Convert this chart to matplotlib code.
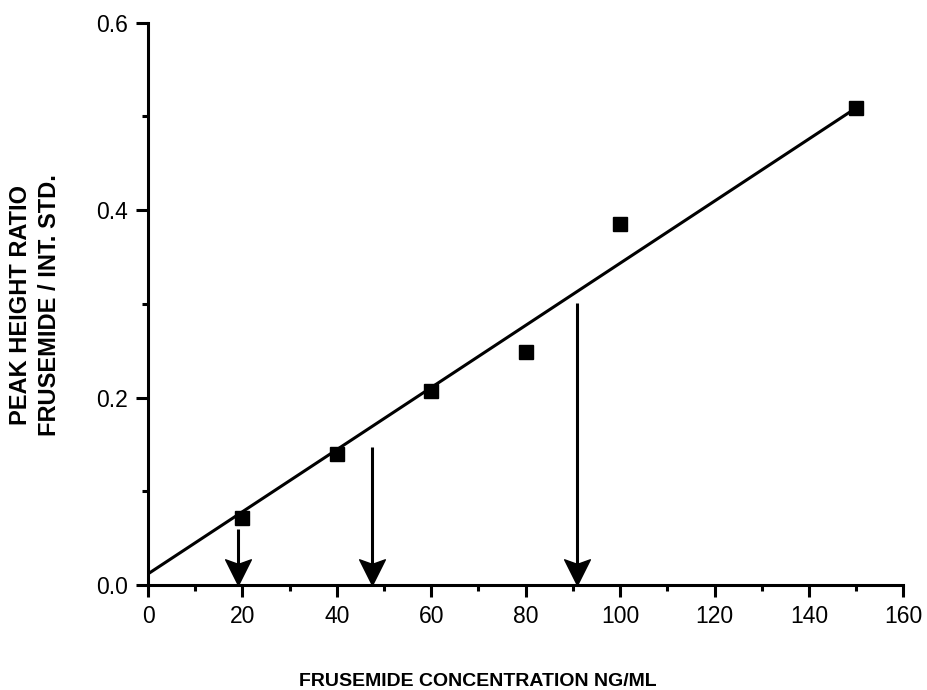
import matplotlib.pyplot as plt
from matplotlib.ticker import MultipleLocator

plt.rcParams['font.family'] = ['Liberation Sans', 'DejaVu Sans']

# calibration standards
conc = [20, 40, 60, 80, 100, 150]
ratio = [0.072, 0.140, 0.207, 0.249, 0.385, 0.509]

# regression line end points
fit_x = [0, 150]
fit_y = [0.012, 0.509]

# unknown samples (x, top of arrow)
arrow_x = [19.1, 47.5, 90.8]
arrow_top = [0.060, 0.147, 0.301]

# notched arrow head, tip at the origin
head = [(0, 0), (-0.5, 1.0), (0, 0.82), (0.5, 1.0), (0, 0)]

fig = plt.figure(figsize=(9.27, 6.9), dpi=100)
ax = fig.add_axes([0.1597, 0.152, 0.8148, 0.8153])

ax.plot(fit_x, fit_y, color='black', lw=2.2, zorder=2)
ax.plot(conc, ratio, 's', color='black', ms=10, zorder=3)

ax.vlines(arrow_x, 0.01, arrow_top, color='black', lw=2.2, zorder=2)
ax.plot(arrow_x, [0] * len(arrow_x), ls='none', marker=head, ms=37,
        color='black', clip_on=False, zorder=4)

ax.set_xlim(0, 160)
ax.set_ylim(0, 0.6)
ax.spines['top'].set_visible(False)
ax.spines['right'].set_visible(False)
for s in ('left', 'bottom'):
    ax.spines[s].set_linewidth(2.2)

ax.xaxis.set_major_locator(MultipleLocator(20))
ax.xaxis.set_minor_locator(MultipleLocator(10))
ax.yaxis.set_minor_locator(MultipleLocator(0.1))
ax.set_yticks([0, 0.2, 0.4, 0.6])
ax.set_yticklabels(['0.0', '0.2', '0.4', '0.6'])
ax.tick_params(which='major', length=8.5, width=2.2, labelsize=16.5, pad=6)
ax.tick_params(which='minor', length=4, width=2.2)

fig.text(0.5157, 0.013, 'FRUSEMIDE CONCENTRATION NG/ML', fontsize=14,
         fontweight='bold', ha='center', va='center')
fig.text(21 / 927, 0.558, 'PEAK HEIGHT RATIO', fontsize=17, fontweight='bold',
         rotation=90, ha='center', va='center')
fig.text(50 / 927, 0.558, 'FRUSEMIDE / INT. STD.', fontsize=17, fontweight='bold',
         rotation=90, ha='center', va='center')

fig.savefig('out.png', dpi=100)
